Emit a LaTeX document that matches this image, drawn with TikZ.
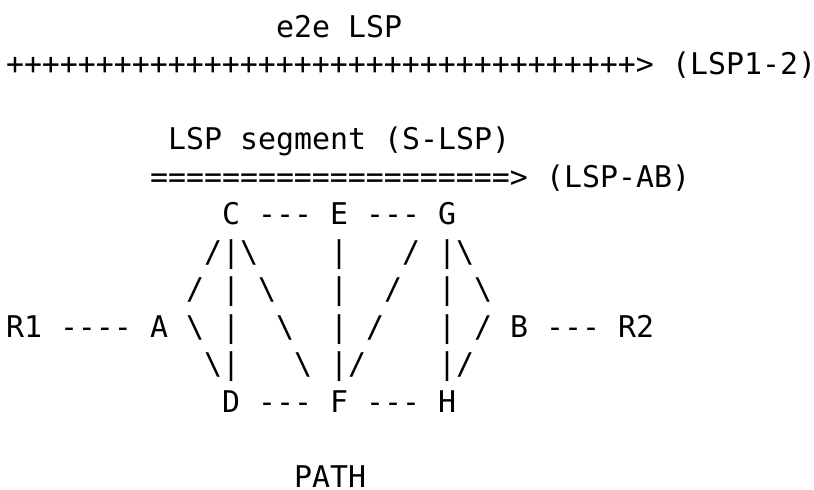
\documentclass[tikz,border=0pt]{standalone}
\usepackage{fontspec}
\setmonofont{DejaVu Sans Mono}
\usepackage{tikz}

\begin{document}
\begin{tikzpicture}[x=9pt,y=-18.75pt,
		asc/.style={font=\ttfamily\fontsize{14.95}{18}\selectfont,anchor=base west,inner sep=0pt,outer sep=0pt}]
		\useasboundingbox (-3pt,18.5pt) rectangle (404pt,-226pt);
		% end to end LSP
		\node[asc] (e2e) at (15,0) {e2e};
		\node[asc] (e2elsp) at (19,0) {LSP};
		\node[asc] (plus) at (0,1) {+++++++++++++++++++++++++++++++++++>};
		\node[asc] (lsp12) at (37,1) {(LSP1-2)};
		% segment
		\node[asc] (seg1) at (9,3) {LSP};
		\node[asc] (seg2) at (13,3) {segment};
		\node[asc] (seg3) at (21,3) {(S-LSP)};
		\node[asc] (equal) at (8,4) {====================>};
		\node[asc] (lspab) at (30,4) {(LSP-AB)};
		% top row
		\node[asc] (C) at (12,5) {C};
		\node[asc] (CE) at (14,5) {---};
		\node[asc] (E) at (18,5) {E};
		\node[asc] (EG) at (20,5) {---};
		\node[asc] (G) at (24,5) {G};
		% links
		\foreach \c/\g [count=\i] in {11/{/},12/|,13/\textbackslash,18/|,22/{/},24/|,25/\textbackslash}
			\node[asc] (la-\i) at (\c,6) {\g};
		\foreach \c/\g [count=\i] in {10/{/},12/|,14/\textbackslash,18/|,21/{/},24/|,26/\textbackslash}
			\node[asc] (lb-\i) at (\c,7) {\g};
		\node[asc] (R1) at (0,8) {R1};
		\node[asc] (R1A) at (3,8) {----};
		\node[asc] (A) at (8,8) {A};
		\foreach \c/\g [count=\i] in {10/\textbackslash,12/|,15/\textbackslash,18/|,20/{/},24/|,26/{/}}
			\node[asc] (lc-\i) at (\c,8) {\g};
		\node[asc] (B) at (28,8) {B};
		\node[asc] (BR2) at (30,8) {---};
		\node[asc] (R2) at (34,8) {R2};
		\foreach \c/\g [count=\i] in {11/\textbackslash,12/|,16/\textbackslash,18/|,19/{/},24/|,25/{/}}
			\node[asc] (ld-\i) at (\c,9) {\g};
		% bottom row
		\node[asc] (D) at (12,10) {D};
		\node[asc] (DF) at (14,10) {---};
		\node[asc] (F) at (18,10) {F};
		\node[asc] (FH) at (20,10) {---};
		\node[asc] (H) at (24,10) {H};
		\node[asc] (path) at (16,12) {PATH};
	\end{tikzpicture}
\end{document}
